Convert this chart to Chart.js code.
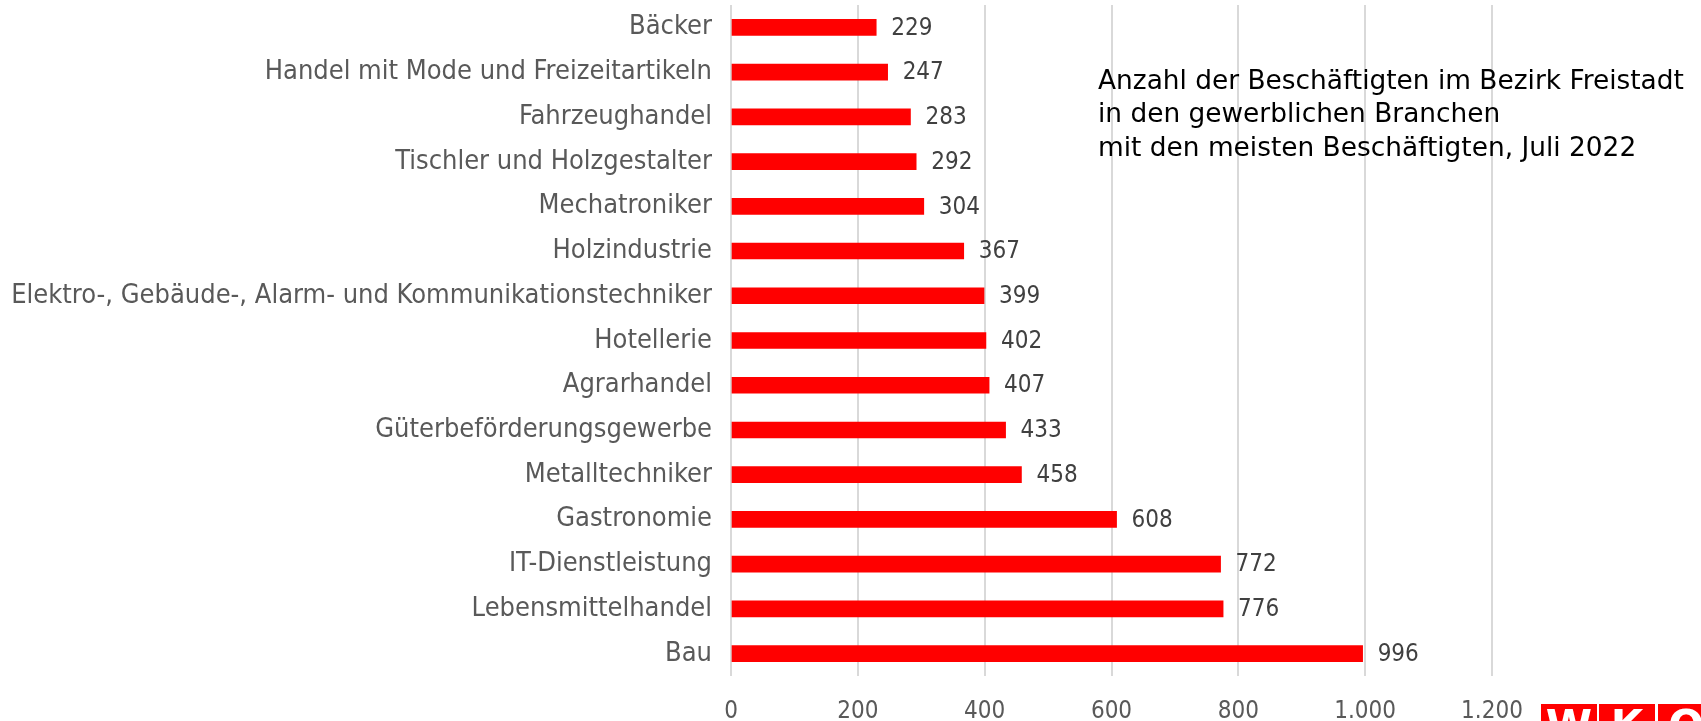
<!DOCTYPE html>
<html>
<head>
<meta charset="utf-8">
<script src="https://cdn.jsdelivr.net/npm/chart.js@4"></script>
<style>
  html, body { margin: 0; padding: 0; background: #fff; }
  #wrap { width: 1701px; height: 721px; position: relative; }
</style>
</head>
<body>
<div id="wrap"><canvas id="grafico"></canvas></div>
<script>
// Daten (Juli 2022, Bezirk Freistadt)
const branchen = [
  'Bäcker',
  'Handel mit Mode und Freizeitartikeln',
  'Fahrzeughandel',
  'Tischler und Holzgestalter',
  'Mechatroniker',
  'Holzindustrie',
  'Elektro-, Gebäude-, Alarm- und Kommunikationstechniker',
  'Hotellerie',
  'Agrarhandel',
  'Güterbeförderungsgewerbe',
  'Metalltechniker',
  'Gastronomie',
  'IT-Dienstleistung',
  'Lebensmittelhandel',
  'Bau'
];
const beschaeftigte = [229, 247, 283, 292, 304, 367, 399, 402, 407, 433, 458, 608, 772, 776, 996];
const titelZeilen = [
  'Anzahl der Beschäftigten im Bezirk Freistadt',
  'in den gewerblichen Branchen',
  'mit den meisten Beschäftigten, Juli 2022'
];
const logoBuchstaben = ['W', 'K', 'O'];

const schrift = '"DejaVu Sans Condensed", "DejaVu Sans", sans-serif';

// Werte rechts neben den Balken
const werteLabels = {
  id: 'werteLabels',
  afterDatasetsDraw(chart) {
    const ctx = chart.ctx;
    const meta = chart.getDatasetMeta(0);
    ctx.save();
    ctx.font = '24px ' + schrift;
    ctx.fillStyle = '#404040';
    ctx.textAlign = 'left';
    ctx.textBaseline = 'middle';
    meta.data.forEach((bar, i) => {
      ctx.fillText(beschaeftigte[i], bar.x + 15, bar.y + 1);
    });
    ctx.restore();
  }
};

// Titeltext und Logo
const extras = {
  id: 'extras',
  afterDraw(chart) {
    const ctx = chart.ctx;
    ctx.save();
    ctx.font = '26.4px "DejaVu Sans", sans-serif';
    ctx.fillStyle = '#000';
    ctx.textAlign = 'left';
    ctx.textBaseline = 'middle';
    titelZeilen.forEach((z, i) => ctx.fillText(z, 1098, 82 + i * 33.5));

    // WKO Logo (unten abgeschnitten)
    const xs = [1541, 1599, 1658];
    xs.forEach((x, i) => {
      ctx.fillStyle = '#ff0000';
      ctx.fillRect(x, 704, 56, 20);
      ctx.fillStyle = '#fff';
      ctx.font = 'bold 42px "DejaVu Sans", sans-serif';
      ctx.textAlign = 'center';
      ctx.textBaseline = 'top';
      ctx.fillText(logoBuchstaben[i], x + 28, 708);
    });
    ctx.restore();
  }
};

const ctx = document.getElementById('grafico').getContext('2d');
new Chart(ctx, {
  type: 'bar',
  data: {
    labels: branchen,
    datasets: [{
      data: beschaeftigte,
      backgroundColor: '#ff0000',
      borderWidth: 0,
      barThickness: 16
    }]
  },
  options: {
    indexAxis: 'y',
    responsive: true,
    maintainAspectRatio: false,
    animation: false,
    locale: 'de-DE',
    layout: { padding: { top: 5, right: 209, left: 10, bottom: 0 } },
    plugins: {
      legend: { display: false },
      tooltip: { enabled: false }
    },
    scales: {
      x: {
        min: 0,
        max: 1200,
        ticks: {
          stepSize: 200,
          color: '#595959',
          font: { family: schrift, size: 24 },
          padding: 21
        },
        grid: { color: '#d9d9d9', lineWidth: 2, drawTicks: false },
        border: { display: false },
        afterFit(scale) { scale.height = 45; }
      },
      y: {
        ticks: {
          color: '#595959',
          font: { family: schrift, size: 27 },
          padding: 19
        },
        grid: { display: false, drawTicks: false },
        border: { display: false },
        afterFit(scale) {
          scale.width = 721;
          scale.paddingTop = 0;
          scale.paddingBottom = 0;
        }
      }
    }
  },
  plugins: [werteLabels, extras]
});
</script>
</body>
</html>
